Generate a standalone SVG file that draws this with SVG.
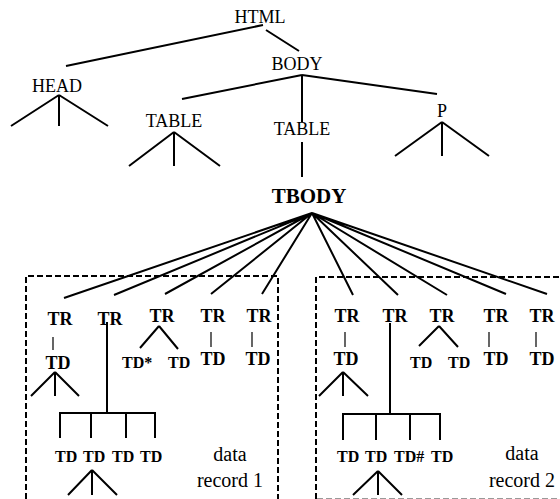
<svg xmlns="http://www.w3.org/2000/svg" width="560" height="499" viewBox="0 0 560 499">
  <style>
    .t { font-family: "Liberation Serif", "Times New Roman", serif; fill: #000; }
    .up { font-size: 18px; }
    .b { font-weight: bold; }
    .tr { font-size: 18px; font-weight: bold; }
    .td { font-size: 18px; font-weight: bold; }
    .sm { font-size: 16px; font-weight: bold; }
    .rec { font-size: 20px; }
    .e { stroke: #000; stroke-width: 2; fill: none; stroke-linecap: butt; }
    .thin { stroke: #000; stroke-width: 1.2; fill: none; }
    .box { stroke: #000; stroke-width: 2; fill: none; stroke-dasharray: 6 3; }
  </style>

  <!-- record regions -->
  <g id="regions">
    <path class="box" d="M26,499 V276 H278 V499"/>
    <path class="box" d="M316,499 V277 H560"/>
    <path d="M317,498.5 H560" stroke="#999" stroke-width="1" stroke-dasharray="6 3" fill="none"/>
  </g>

  <!-- edges -->
  <g id="connectors">
    <path class="e" d="M263,25 L66,66 M266,30 L299,51"/>
    <path class="e" d="M302,75 L182,99 M302,75 V122 M302,75 L437,94"/>
    <path class="e" d="M59,95 L11,126 M59,95 V126 M59,95 L108,126"/>
    <path class="e" d="M174,132 L129,166 M174,132 V166 M174,132 L220,166"/>
    <path class="e" d="M442,122 L395,156 M442,122 V156 M442,122 L489,156"/>
    <path class="e" d="M302,142 V177"/>
    <!-- TBODY fan-out -->
    <path class="e" d="M312,213 L64,298 M312,213 L114,295 M312,213 L165,294 M312,213 L211,294 M312,213 L262,294
                      M312,213 L353,295 M312,213 L398,295 M312,213 L447,295 M312,213 L506,294 M312,213 L547,294"/>
    <!-- record 1 -->
    <path class="thin" d="M53,337 V350 M211,332 V347 M252,332 V347"/>
    <path class="e" d="M55,372 L31,396 M55,372 V396 M55,372 L79,396"/>
    <path class="e" d="M107,322 V413 M60,413 H155 M60,412 V438 M91,413 V438 M126,413 V438 M155,412 V438"/>
    <path class="e" d="M92,470 L68,495 M92,470 V495 M92,470 L117,495"/>
    <path class="e" d="M159,326 L140,348 M159,326 L178,349"/>
    <!-- record 2 -->
    <path class="thin" d="M345,332 V347 M489,332 V347 M536,332 V347"/>
    <path class="e" d="M343,372 L319,396 M343,372 V396 M343,372 L368,396"/>
    <path class="e" d="M390,323 V414 M343,414 H440 M343,413 V440 M376,414 V440 M410,414 V440 M440,413 V440"/>
    <path class="e" d="M378,471 L353,495 M378,471 V495 M378,471 L402,495"/>
    <path class="e" d="M439,326 L419,346 M439,326 L458,347"/>
  </g>

  <!-- document tree -->
  <g id="html"><text class="t up" x="260" y="23" text-anchor="middle">HTML</text></g>
  <g id="head"><text class="t up" x="57" y="92" text-anchor="middle">HEAD</text></g>
  <g id="body"><text class="t up" x="297" y="70" text-anchor="middle">BODY</text></g>
  <g id="table1"><text class="t up" x="174" y="127" text-anchor="middle">TABLE</text></g>
  <g id="table2"><text class="t up" x="302" y="135" text-anchor="middle">TABLE</text></g>
  <g id="p"><text class="t up" x="442" y="117" text-anchor="middle">P</text></g>
  <g id="tbody"><text class="t b" font-size="21" x="309" y="203" text-anchor="middle">TBODY</text></g>

  <!-- data record 1 -->
  <g id="r1-tr1">
    <text class="t tr" x="60" y="325" text-anchor="middle">TR</text>
    <text class="t td" x="58" y="369" text-anchor="middle">TD</text>
  </g>
  <g id="r1-tr2">
    <text class="t tr" x="110" y="325" text-anchor="middle">TR</text>
    <text class="t sm" x="55" y="462">TD</text>
    <text class="t sm" x="83" y="462">TD</text>
    <text class="t sm" x="112" y="462">TD</text>
    <text class="t sm" x="140" y="462">TD</text>
  </g>
  <g id="r1-tr3">
    <text class="t tr" x="162" y="322" text-anchor="middle">TR</text>
    <text class="t sm" x="122" y="368">TD*</text>
    <text class="t sm" x="168" y="368">TD</text>
  </g>
  <g id="r1-tr4">
    <text class="t tr" x="213" y="322" text-anchor="middle">TR</text>
    <text class="t td" x="213" y="365" text-anchor="middle">TD</text>
  </g>
  <g id="r1-tr5">
    <text class="t tr" x="259" y="322" text-anchor="middle">TR</text>
    <text class="t td" x="258" y="365" text-anchor="middle">TD</text>
  </g>
  <g id="r1-label">
    <text class="t rec" x="230" y="461" text-anchor="middle">data</text>
    <text class="t rec" x="230" y="487" text-anchor="middle">record 1</text>
  </g>

  <!-- data record 2 -->
  <g id="r2-tr1">
    <text class="t tr" x="347" y="322" text-anchor="middle">TR</text>
    <text class="t td" x="346" y="365" text-anchor="middle">TD</text>
  </g>
  <g id="r2-tr2">
    <text class="t tr" x="395" y="322" text-anchor="middle">TR</text>
    <text class="t sm" x="337" y="462">TD</text>
    <text class="t sm" x="365" y="462">TD</text>
    <text class="t sm" x="394" y="462">TD#</text>
    <text class="t sm" x="431" y="462">TD</text>
  </g>
  <g id="r2-tr3">
    <text class="t tr" x="442" y="322" text-anchor="middle">TR</text>
    <text class="t sm" x="410" y="368">TD</text>
    <text class="t sm" x="448" y="368">TD</text>
  </g>
  <g id="r2-tr4">
    <text class="t tr" x="496" y="322" text-anchor="middle">TR</text>
    <text class="t td" x="496" y="365" text-anchor="middle">TD</text>
  </g>
  <g id="r2-tr5">
    <text class="t tr" x="542" y="322" text-anchor="middle">TR</text>
    <text class="t td" x="542" y="365" text-anchor="middle">TD</text>
  </g>
  <g id="r2-label">
    <text class="t rec" x="522" y="460" text-anchor="middle">data</text>
    <text class="t rec" x="522" y="487" text-anchor="middle">record 2</text>
  </g>
</svg>
